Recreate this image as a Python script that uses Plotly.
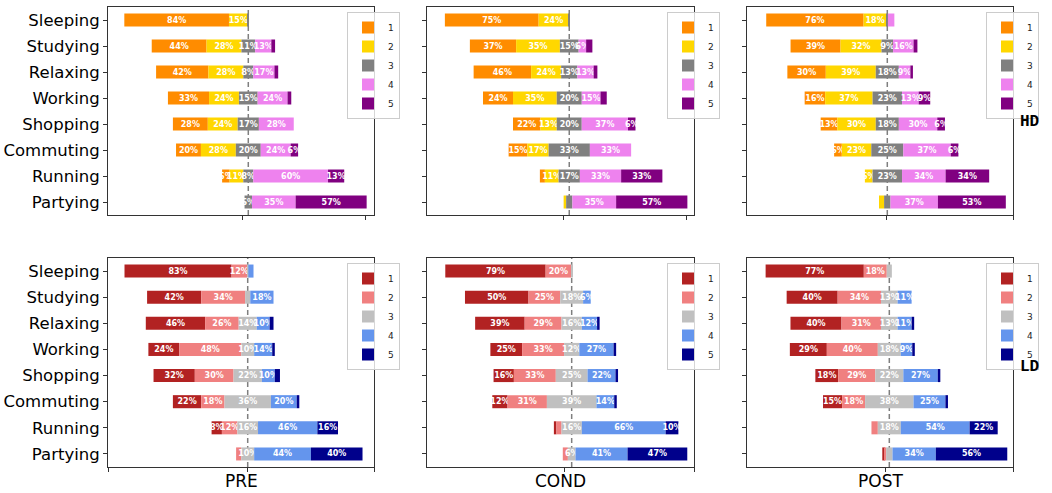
import plotly.graph_objects as go

categories = ["Sleeping", "Studying", "Relaxing", "Working", "Shopping", "Commuting", "Running", "Partying"]
levels = ["1", "2", "3", "4", "5"]
phases = ["PRE", "COND", "POST"]
groups = ["HD", "LD"]

hd_colors = ["#FF8C00", "#FFD700", "#808080", "#EE82EE", "#800080"]
ld_colors = ["#B22222", "#F08080", "#C0C0C0", "#6495ED", "#00008B"]

# percentages per level (rows: level 1..5, columns: categories)
hd_pre = [
    [84, 44, 42, 33, 28, 20, 6, 0],
    [15, 28, 28, 24, 24, 28, 11, 0],
    [1, 11, 8, 15, 17, 20, 8, 6],
    [0, 13, 17, 24, 28, 24, 60, 35],
    [0, 3, 3, 3, 0, 6, 13, 57],
]
hd_cond = [
    [75, 37, 46, 24, 22, 15, 4, 0],
    [24, 35, 24, 35, 13, 17, 11, 2],
    [1, 15, 13, 20, 20, 33, 17, 5],
    [0, 6, 13, 15, 37, 33, 33, 35],
    [0, 5, 3, 5, 6, 0, 33, 57],
]
hd_post = [
    [76, 39, 30, 16, 13, 6, 0, 0],
    [18, 32, 39, 37, 30, 23, 6, 4],
    [1, 9, 18, 23, 18, 25, 23, 5],
    [5, 16, 9, 13, 30, 37, 34, 37],
    [0, 3, 2, 9, 6, 6, 34, 53],
]
ld_pre = [
    [83, 42, 46, 24, 32, 22, 8, 0],
    [12, 34, 26, 48, 30, 18, 12, 4],
    [1, 4, 14, 10, 22, 36, 16, 10],
    [4, 18, 10, 14, 10, 20, 46, 44],
    [0, 0, 3, 2, 4, 2, 16, 40],
]
ld_cond = [
    [79, 50, 39, 25, 16, 12, 2, 0],
    [20, 25, 29, 33, 33, 31, 4, 4],
    [1, 18, 16, 12, 25, 39, 16, 6],
    [0, 6, 12, 27, 22, 14, 66, 41],
    [0, 0, 2, 2, 2, 2, 10, 47],
]
ld_post = [
    [77, 40, 40, 29, 18, 15, 0, 2],
    [18, 34, 31, 40, 29, 18, 5, 1],
    [4, 13, 13, 18, 22, 38, 18, 5],
    [0, 11, 11, 9, 27, 25, 54, 34],
    [0, 0, 2, 2, 2, 2, 22, 56],
]

panels = [
    (hd_pre, hd_colors, 0, 0), (hd_cond, hd_colors, 0, 1), (hd_post, hd_colors, 0, 2),
    (ld_pre, ld_colors, 1, 0), (ld_cond, ld_colors, 1, 1), (ld_post, ld_colors, 1, 2),
]

# layout geometry (pixels)
W, H = 1052, 493
col_px = [(108, 374), (427, 694), (747, 1013)]
row_px = [(7, 215), (258, 467)]
group_label_y = [122, 367]
x_ranges = [[-112.6, 100.9], [-113.8, 99.8], [-109.5, 98.1],
            [-108.3, 97.9], [-113.9, 96.3], [-111.6, 97.0]]
x_ticks = [[-4.3, 93.7], [-5.0, 93.4], [-0.5, 98.1],
           [-108.3, 0.2, 97.9], [-5.3, 96.3], [-2.6, 97.0]]

FONT = "DejaVu Sans"
fig = go.Figure()
layout = {}
shapes = []

for idx, (data, colors, r, c) in enumerate(panels):
    n = idx + 1
    xa = "x" if n == 1 else f"x{n}"
    ya = "y" if n == 1 else f"y{n}"
    leg = "legend" if n == 1 else f"legend{n}"
    left = [-(a + b + g / 2) for a, b, g in zip(data[0], data[1], data[2])]
    cum = list(left)
    for k in range(5):
        vals = data[k]
        fig.add_trace(go.Bar(
            y=categories, x=vals, base=list(cum), orientation="h", width=0.5,
            marker=dict(color=colors[k], line=dict(width=0)),
            name=levels[k],
            text=[f"{v}%" if v > 5 else "" for v in vals],
            textposition="inside", insidetextanchor="middle", textangle=0,
            textfont=dict(color="white", size=8, family=FONT, weight="bold"),
            xaxis=xa, yaxis=ya, legend=leg, hoverinfo="skip", showlegend=True,
        ))
        cum = [a + v for a, v in zip(cum, vals)]

    x0, x1 = col_px[c]
    y0, y1 = row_px[r]
    xkey = "xaxis" if n == 1 else f"xaxis{n}"
    ykey = "yaxis" if n == 1 else f"yaxis{n}"
    layout[xkey] = dict(
        domain=[x0 / W, x1 / W], range=x_ranges[idx], anchor=ya,
        showgrid=False, zeroline=False, showline=True, mirror=True,
        linecolor="#333333", linewidth=1, ticks="outside", ticklen=4,
        tickcolor="#333333", tickvals=x_ticks[idx], showticklabels=False,
        automargin=False,
    )
    layout[ykey] = dict(
        domain=[1 - y1 / H, 1 - y0 / H], anchor=xa,
        type="category", categoryorder="array", categoryarray=categories,
        range=[7.5, -0.5], showgrid=False, zeroline=False, showline=True,
        mirror=True, linecolor="#333333", linewidth=1, ticks="outside",
        ticklen=4, tickcolor="#333333", showticklabels=(c == 0),
        tickfont=dict(size=16.5, family=FONT, color="black"), automargin=False,
    )
    layout[leg] = dict(
        x=(x1 - 27) / W, xanchor="left", y=1 - (y0 + 5) / H, yanchor="top",
        bgcolor="rgba(255,255,255,0.8)", bordercolor="#cccccc", borderwidth=1,
        font=dict(size=9, family=FONT, color="#222222"), itemwidth=30,
    )
    shapes.append(dict(
        type="line", xref=xa, yref=f"{ya} domain", x0=0, x1=0, y0=0, y1=1,
        line=dict(color="rgba(0,0,0,0.5)", width=1.5, dash="5px,3px"), layer="below",
    ))

annotations = []
for c, ph in enumerate(phases):
    x0, x1 = col_px[c]
    annotations.append(dict(
        text=ph, x=(x0 + x1) / 2 / W, y=1 - 481 / H, xref="paper", yref="paper",
        xanchor="center", yanchor="middle", showarrow=False,
        font=dict(size=17, family=FONT, color="black"),
    ))
for r, g in enumerate(groups):
    annotations.append(dict(
        text=f"<b>{g}</b>", x=1029 / W, y=1 - group_label_y[r] / H, xref="paper", yref="paper",
        xanchor="center", yanchor="middle", showarrow=False,
        font=dict(size=16, family="Liberation Mono", color="black"),
    ))

fig.update_layout(
    width=W, height=H, margin=dict(l=0, r=0, t=0, b=0, autoexpand=False),
    paper_bgcolor="white", plot_bgcolor="white",
    barmode="overlay", uniformtext=dict(mode="show", minsize=8),
    shapes=shapes, annotations=annotations, **layout,
)
fig.write_html("out.html", config={"displayModeBar": False},
               post_script="document.body.style.margin='0';")
